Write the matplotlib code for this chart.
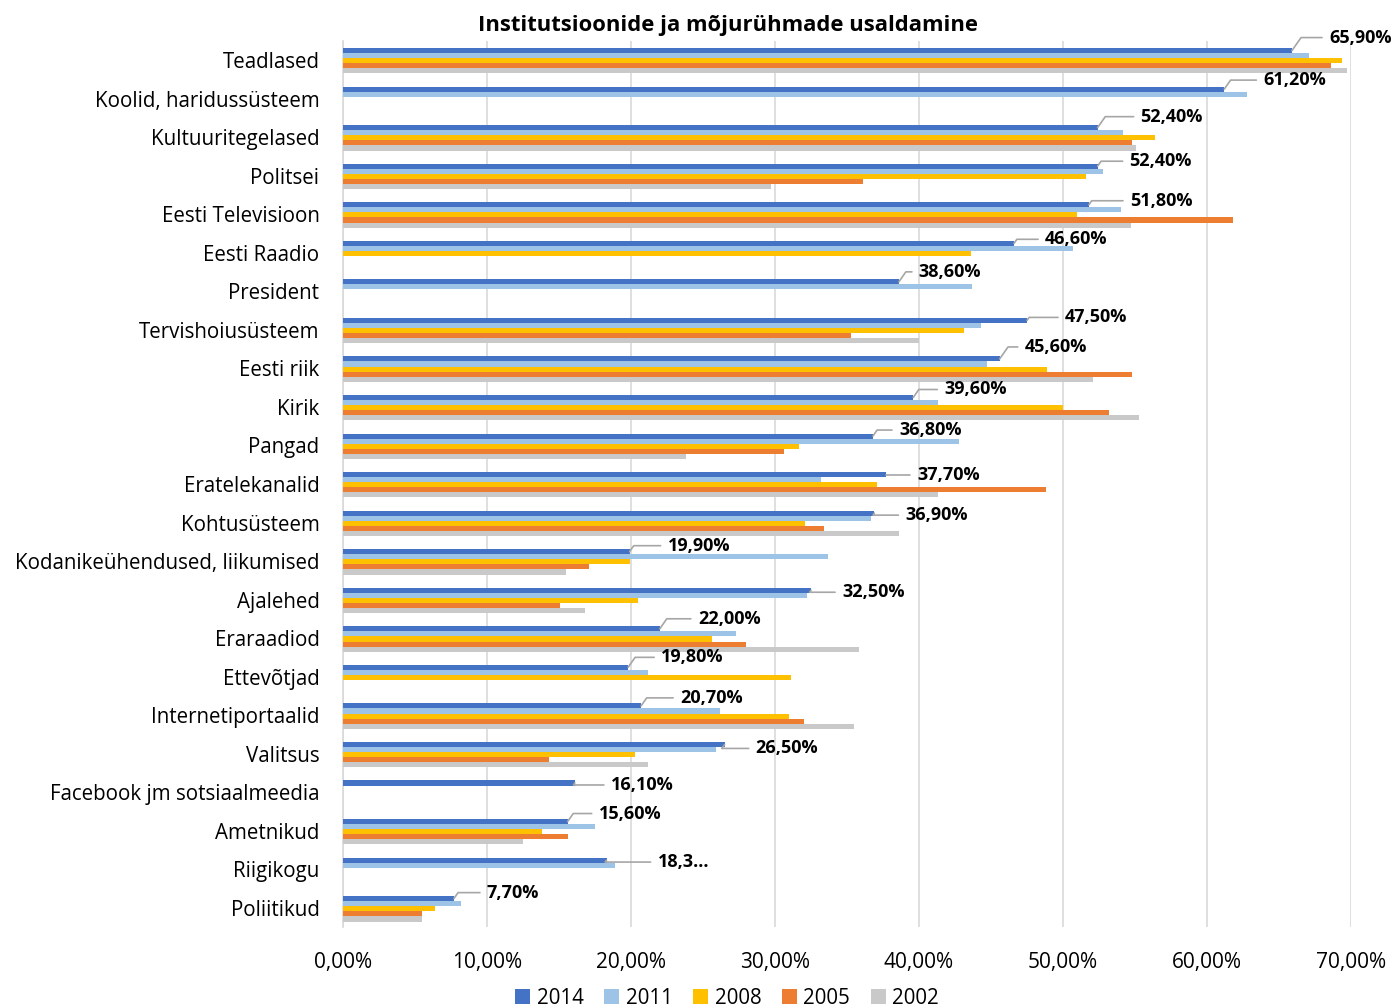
import numpy as np
import matplotlib
matplotlib.use('Agg')
import matplotlib.pyplot as plt

# ── DATA ──────────────────────────────────────────────────────────────────────
CATEGORIES = [
    'Teadlased', 'Koolid, haridussüsteem', 'Kultuuritegelased', 'Politsei',
    'Eesti Televisioon', 'Eesti Raadio', 'President', 'Tervishoiusüsteem',
    'Eesti riik', 'Kirik', 'Pangad', 'Eratelekanalid', 'Kohtusüsteem',
    'Kodanikeühendused, liikumised', 'Ajalehed', 'Eraraadiod', 'Ettevõtjad',
    'Internetiportaalid', 'Valitsus', 'Facebook jm sotsiaalmeedia',
    'Ametnikud', 'Riigikogu', 'Poliitikud',
]
YEARS = ['2014', '2011', '2008', '2005', '2002']

nan = np.nan
Y2014 = [65.9, 61.2, 52.4, 52.4, 51.8, 46.6, 38.6, 47.5, 45.6, 39.6, 36.8, 37.7,
         36.9, 19.9, 32.5, 22.0, 19.8, 20.7, 26.5, 16.1, 15.6, 18.3, 7.7]
Y2011 = [67.1, 62.8, 54.2, 52.8, 54.0, 50.7, 43.7, 44.3, 44.7, 41.3, 42.8, 33.2,
         36.7, 33.7, 32.2, 27.3, 21.2, 26.2, 25.9, nan, 17.5, 18.9, 8.2]
Y2008 = [69.4, nan, 56.4, 51.6, 51.0, 43.6, nan, 43.1, 48.9, 50.0, 31.7, 37.1,
         32.1, 19.9, 20.5, 25.6, 31.1, 31.0, 20.3, nan, 13.8, nan, 6.4]
Y2005 = [68.6, nan, 54.8, 36.1, 61.8, nan, nan, 35.3, 54.8, 53.2, 30.6, 48.8,
         33.4, 17.1, 15.1, 28.0, nan, 32.0, 14.3, nan, 15.6, nan, 5.5]
Y2002 = [69.7, nan, 55.1, 29.7, 54.7, nan, nan, 40.0, 52.1, 55.3, 23.8, 41.3,
         38.6, 15.5, 16.8, 35.8, nan, 35.5, 21.2, nan, 12.5, nan, 5.5]

# label text for the 2014 series (one is cut off in the original)
LABELS_2014 = ['65,90%', '61,20%', '52,40%', '52,40%', '51,80%', '46,60%',
               '38,60%', '47,50%', '45,60%', '39,60%', '36,80%', '37,70%',
               '36,90%', '19,90%', '32,50%', '22,00%', '19,80%', '20,70%',
               '26,50%', '16,10%', '15,60%', '18,3...', '7,70%']

# ── STYLE ─────────────────────────────────────────────────────────────────────
COLORS = ['#4472C4', '#9DC3E6', '#FFC000', '#ED7D31', '#C9C9C9']
FONT = 'Open Sans'
BAR_H = 0.132
GROUP_SHIFT = 0.02   # bars sit a touch below the category tick
# label offsets in pixels (dx right, dy up) from the end of the 2014 bar
LABEL_OFFSETS = [(37, 13), (39, 9), (43, 11), (32, 5), (41, 4), (31, 4),
                 (20, 10), (38, 3), (25, 12), (31, 8), (26, 6), (31, 0),
                 (31, -2), (38, 6), (31, -2), (38, 10), (33, 10), (39, 8),
                 (31, -4), (36, -2), (31, 8), (51, -2), (33, 6)]

plt.rcParams['font.family'] = [FONT, 'DejaVu Sans']

fig = plt.figure(figsize=(13.95, 10.08), dpi=100)
ax = fig.add_axes([343 / 1395, 1 - 927.3 / 1008, 1008 / 1395, 886.6 / 1008])

series = [Y2014, Y2011, Y2008, Y2005, Y2002]
y = np.arange(len(CATEGORIES))
for i, (vals, year, col) in enumerate(zip(series, YEARS, COLORS)):
    v = np.array(vals) / 100
    ax.barh(y + GROUP_SHIFT + (i - 2) * BAR_H, v, height=BAR_H, color=col,
            label=year, edgecolor='none', zorder=3)

# data labels with leader lines for 2014
for k, (val, txt) in enumerate(zip(Y2014, LABELS_2014)):
    dx, dy = LABEL_OFFSETS[k]
    ax.annotate(txt, xy=(val / 100, y[k] + GROUP_SHIFT - 2 * BAR_H),
                xytext=(dx, dy), textcoords='offset pixels',
                ha='left', va='center', fontsize=13, fontweight='bold',
                annotation_clip=False,
                arrowprops=dict(arrowstyle='-', color='#A6A6A6', lw=1.2,
                                shrinkA=3, shrinkB=0,
                                connectionstyle='angle,angleA=0,angleB=55,rad=0'))

ax.set_xlim(0, 0.70)
ax.set_ylim(len(CATEGORIES) - 0.5, -0.5)
ax.set_xticks(np.arange(0, 0.71, 0.10))
ax.set_xticklabels([f'{t:.2f}%'.replace('.', ',') for t in np.arange(0, 71, 10)])
ax.set_yticks(y)
ax.set_yticklabels(CATEGORIES, fontsize=14.8)
ax.tick_params(axis='both', length=0)
ax.tick_params(axis='x', labelsize=15, pad=18)
ax.tick_params(axis='y', pad=17)

ax.grid(axis='x', color='#D9D9D9', lw=1.2, zorder=0)
for s in ['top', 'right', 'bottom']:
    ax.spines[s].set_visible(False)
ax.spines['left'].set_color('#D9D9D9')
ax.spines['left'].set_linewidth(1.2)

fig.text(728 / 1395, 1 - 26 / 1008, 'Institutsioonide ja mõjurühmade usaldamine',
         ha='center', va='center', fontsize=15.8, fontweight='bold')

fig.legend(loc='center', bbox_to_anchor=(727 / 1395, 1 - 998 / 1008), ncol=5,
           frameon=False, fontsize=14.8, handlelength=0.75, handleheight=0.75,
           handletextpad=0.3, columnspacing=1.0)

plt.savefig('out.png', dpi=100)
